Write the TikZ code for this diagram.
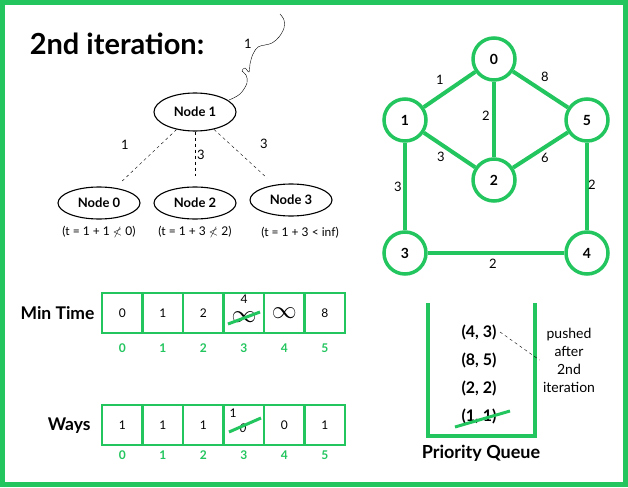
\documentclass[tikz,border=0pt]{standalone}
\usepackage{amssymb}
\usepackage{fontspec}
\setmainfont{Lato}
\usetikzlibrary{shapes.geometric}

\definecolor{qgreen}{RGB}{34,197,94}

\tikzset{
  tnode/.style={ellipse,draw=black,line width=1.1pt,minimum width=82,minimum height=32,font=\bfseries\fontsize{13}{15}\selectfont},
  gnode/.style={circle,draw=qgreen,line width=3.5pt,minimum size=42,font=\bfseries\fontsize{14}{16}\selectfont},
  gedge/.style={qgreen,line width=4pt},
  cell/.style={rectangle,draw=qgreen,line width=2.5pt,minimum width=40.5,minimum height=40,font=\fontsize{12}{14}\selectfont},
  idx/.style={text=qgreen,font=\bfseries\fontsize{12}{14}\selectfont},
  lbl/.style={font=\fontsize{13}{15}\selectfont},
  pqitem/.style={font=\bfseries\fontsize{16}{18}\selectfont},
  strike/.style={qgreen,line width=3pt},
}

\begin{document}
\begin{tikzpicture}[x=1pt,y=-1pt]
\useasboundingbox (0,0) rectangle (628,487);
\draw [qgreen,line width=5pt] (2.5,2.5) rectangle (625.5,484.5);

\node [font=\bfseries\fontsize{29}{32}\selectfont] (title) at (117,44) {2nd iteration:};

% tree of the 2nd iteration
\node [tnode,minimum height=38] (n1) at (195,112) {Node 1};
\node [tnode] (n0) at ( 99,203) {Node 0};
\node [tnode] (n2) at (195,203) {Node 2};
\node [tnode] (n3) at (291,200) {Node 3};

\draw [dashed,thin,shorten >=10pt] (n1) to (n0);
\draw [dashed,thin,shorten >=10pt] (n1) to (n2);
\draw [dashed,thin,shorten >=10pt] (n1) to (n3);
\node [lbl] at (125,145) {1};
\node [lbl] at (201,155) {3};
\node [lbl] at (264,144) {3};

\node [font=\fontsize{12}{14}\selectfont] (c0) at ( 99,232) {(t = 1 + 1 $\nless$ 0)};
\node [font=\fontsize{12}{14}\selectfont] (c2) at (195,232) {(t = 1 + 3 $\nless$ 2)};
\node [font=\fontsize{12}{14}\selectfont] (c3) at (300,233) {(t = 1 + 3 < inf)};

\draw [thin] (n1.north east) plot [smooth,tension=0.6] coordinates {
  (229,100) (240,94) (247,83) (246,75) (242,71) (245,68) (249,72) (250,64)
  (253,54) (258,47) (265,45) (272,43) (279,37) (284,28) (284,20) (280,14)};
\node [lbl] at (248,44) {1};

% graph
\node [gnode] (g0) at (494,59)  {0};
\node [gnode] (g1) at (405,120) {1};
\node [gnode] (g5) at (587,120) {5};
\node [gnode] (g2) at (494,180) {2};
\node [gnode] (g3) at (405,253) {3};
\node [gnode] (g4) at (587,253) {4};

\draw [gedge] (g0) to (g1);
\draw [gedge] (g0) to (g2);
\draw [gedge] (g0) to (g5);
\draw [gedge] (g1) to (g2);
\draw [gedge] (g5) to (g2);
\draw [gedge] (g1) to (g3);
\draw [gedge] (g5) to (g4);
\draw [gedge] (g3) to (g4);

\node [lbl] at (440,80)  {1};
\node [lbl] at (545,77)  {8};
\node [lbl] at (486,116) {2};
\node [lbl] at (441,157) {3};
\node [lbl] at (545,158) {6};
\node [lbl] at (398,187) {3};
\node [lbl] at (592,185) {2};
\node [lbl] at (493,264) {2};

% arrays
\node [font=\bfseries\fontsize{17.5}{20}\selectfont,anchor=east] (mtl) at (98,313) {Min Time};
\node [font=\bfseries\fontsize{17.5}{20}\selectfont,anchor=east] (wl)  at (94,426) {Ways};

\foreach \v [count=\k from 0] in {0,1,2,{},{\fontsize{26}{26}\selectfont$\infty$},8} {
  \node [cell] (mt\k) at (122.25+40.5*\k,313) {\v};
  \node [idx] at (122.25+40.5*\k,348) {\k};
}
\foreach \v [count=\k from 0] in {1,1,1,{},0,1} {
  \node [cell] (w\k) at (122.25+40.5*\k,425) {\v};
  \node [idx] at (122.25+40.5*\k,455) {\k};
}

\node [font=\fontsize{24}{24}\selectfont] at (244,317) {$\infty$};
\node [font=\fontsize{12}{14}\selectfont] at (244,299) {4};
\draw [strike] (228,324) to (260,312);

\node [font=\fontsize{12}{14}\selectfont] at (233,413) {1};
\node [font=\fontsize{12}{14}\selectfont] at (243,428) {\itshape 0};
\draw [strike] (229,432) to (261,418);

% priority queue
\draw [qgreen,line width=4pt] (428,303) -- (428,436) -- (535,436) -- (535,303);
\node [font=\bfseries\fontsize{18}{20}\selectfont] (pqname) at (481,453) {Priority Queue};
\node [pqitem] (pq1) at (479,332) {(4, 3)};
\node [pqitem] (pq2) at (479,360) {(8, 5)};
\node [pqitem] (pq3) at (479,388) {(2, 2)};
\node [pqitem] (pq4) at (479,416) {(1, 1)};
\draw [strike] (455,427) to (510,411);

\node [align=center,font=\fontsize{14}{18}\selectfont] (note) at (569,360) {pushed\\after\\2nd\\iteration};
\draw [dashed,thin] (pq1.east) to (note.west);

\end{tikzpicture}
\end{document}
